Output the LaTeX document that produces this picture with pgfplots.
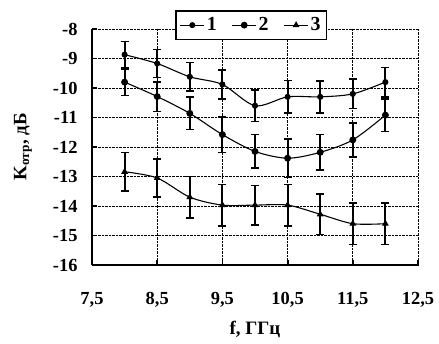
\documentclass[border=0pt]{standalone}
\usepackage{fontspec}
\setmainfont{Liberation Serif}
\usepackage{pgfplots}
\pgfplotsset{compat=1.18}

% reflection coefficient vs frequency: x, mean, half-width of spread
\pgfplotstableread{
x y e
8 -8.87 0.45
8.5 -9.17 0.47
9 -9.62 0.48
9.5 -9.88 0.50
10 -10.6 0.53
10.5 -10.3 0.55
11 -10.3 0.54
11.5 -10.2 0.50
12 -9.8 0.50
}\seriesA
\pgfplotstableread{
x y e
8 -9.8 0.45
8.5 -10.29 0.50
9 -10.86 0.55
9.5 -11.58 0.60
10 -12.15 0.57
10.5 -12.38 0.65
11 -12.18 0.60
11.5 -11.76 0.58
12 -10.92 0.55
}\seriesB
\pgfplotstableread{
x y e
8 -12.84 0.66
8.5 -13.05 0.65
9 -13.7 0.70
9.5 -13.97 0.70
10 -13.97 0.67
10.5 -13.97 0.70
11 -14.28 0.69
11.5 -14.6 0.70
12 -14.6 0.70
}\seriesC

\pgfplotsset{
  errstyle/.style={
    black, line width=1.1pt, smooth,
    error bars/y dir=both, error bars/y explicit,
    error bars/error bar style={line width=1.9pt, solid},
    error bars/error mark options={rotate=90, mark size=4pt, line width=1.6pt},
  },
}

\begin{document}
\begin{tikzpicture}
\begin{axis}[
  name=ax, scale only axis, width=326bp, height=236bp,
  xmin=7.5, xmax=12.5, ymin=-16, ymax=-8,
  axis x line*=bottom, axis y line*=left,
  axis line style={-, line width=1.8pt, black},
  xtick={7.5,8.5,9.5,10.5,11.5,12.5},
  xticklabels={{7,5},{8,5},{9,5},{10,5},{11,5},{12,5}},
  ytick={-16,-15,-14,-13,-12,-11,-10,-9,-8},
  yticklabels={-16,-15,-14,-13,-12,-11,-10,-9,-8},
  tick align=inside, major tick length=5pt,
  tick style={line width=1.8pt, black},
  grid=major, grid style={densely dotted, line width=0.8pt, black},
  ticklabel style={font=\bfseries\fontsize{18.5}{20}\selectfont},
  xticklabel style={yshift=-24bp},
  yticklabel style={xshift=-11bp},
  xlabel={f, ГГц}, ylabel={K\textsubscript{отр}, дБ},
  label style={font=\bfseries\fontsize{19}{21}\selectfont},
  xlabel style={at={(axis description cs:0.5,0)}, anchor=center, yshift=-64bp},
  ylabel style={at={(axis description cs:0,0.5)}, anchor=center, yshift=69bp},
  legend columns=3,
  legend style={at={(rel axis cs:0.255,1.08)}, anchor=north west,
    draw=black, line width=1.4pt, fill=white,
    font=\bfseries\fontsize{20}{22}\selectfont,
    inner xsep=4pt, inner ysep=5pt,
    /tikz/every even column/.append style={column sep=13pt}},
  legend image code/.code={
    \draw[mark repeat=2, mark phase=2, line width=1pt] plot coordinates {(0bp,0bp) (12bp,0bp) (24bp,0bp)};},
]
\addplot[errstyle, mark=*, mark size=2.5pt, mark options={solid, fill=black}]
  table[x=x, y=y, y error=e] {\seriesA};
\addlegendentry{1}
\addplot[errstyle, mark=*, mark size=2.9pt, mark options={solid, fill=black}]
  table[x=x, y=y, y error=e] {\seriesB};
\addlegendentry{2}
\addplot[errstyle, mark=triangle*, mark size=2.9pt, mark options={solid, fill=black}]
  table[x=x, y=y, y error=e] {\seriesC};
\addlegendentry{3}
\coordinate (sw) at (rel axis cs:0,0);
\coordinate (ne) at (rel axis cs:1,1);
\end{axis}
\pgfresetboundingbox
\path ([xshift=-92bp,yshift=-79bp]sw) rectangle ([xshift=21bp,yshift=29bp]ne);
\end{tikzpicture}
\end{document}
